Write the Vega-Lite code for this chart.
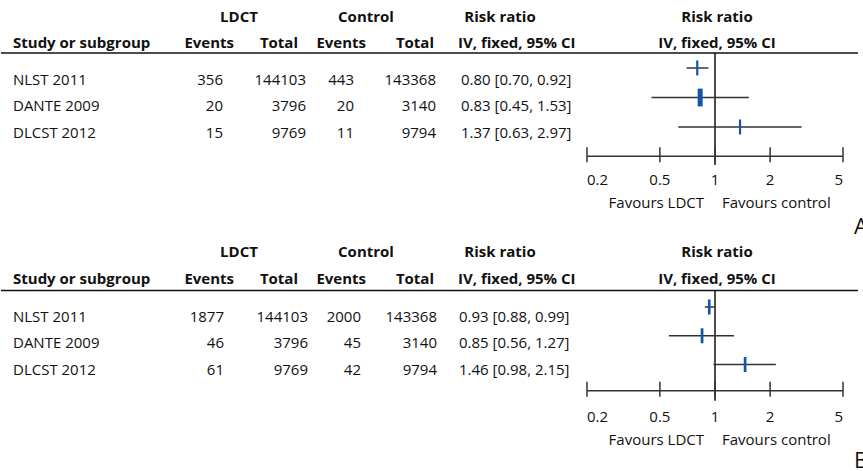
{
  "$schema": "https://vega.github.io/schema/vega-lite/v6.json",
  "padding": 0,
  "spacing": 0,
  "bounds": "flush",
  "background": "white",
  "config": {
    "view": {"stroke": null},
    "text": {"font": "Open Sans", "fontSize": 15, "baseline": "middle", "color": "#111111"},
    "tick": {"opacity": 1}
  },
  "datasets": {
    "studiesA": [
      {"study": "NLST 2011", "ev1": 356, "tot1": 144103, "ev2": 443, "tot2": 143368, "rr": 0.80, "lo": 0.70, "hi": 0.92, "ci": "0.80 [0.70, 0.92]"},
      {"study": "DANTE 2009", "ev1": 20, "tot1": 3796, "ev2": 20, "tot2": 3140, "rr": 0.83, "lo": 0.45, "hi": 1.53, "ci": "0.83 [0.45, 1.53]"},
      {"study": "DLCST 2012", "ev1": 15, "tot1": 9769, "ev2": 11, "tot2": 9794, "rr": 1.37, "lo": 0.63, "hi": 2.97, "ci": "1.37 [0.63, 2.97]"}
    ],
    "studiesB": [
      {"study": "NLST 2011", "ev1": 1877, "tot1": 144103, "ev2": 2000, "tot2": 143368, "rr": 0.93, "lo": 0.88, "hi": 0.99, "ci": "0.93 [0.88, 0.99]"},
      {"study": "DANTE 2009", "ev1": 46, "tot1": 3796, "ev2": 45, "tot2": 3140, "rr": 0.85, "lo": 0.56, "hi": 1.27, "ci": "0.85 [0.56, 1.27]"},
      {"study": "DLCST 2012", "ev1": 61, "tot1": 9769, "ev2": 42, "tot2": 9794, "rr": 1.46, "lo": 0.98, "hi": 2.15, "ci": "1.46 [0.98, 2.15]"}
    ],
    "ticks": [
      {"v": 0.2, "lab": "0.2"},
      {"v": 0.5, "lab": "0.5"},
      {"v": 1, "lab": "1"},
      {"v": 2, "lab": "2"},
      {"v": 5, "lab": "5"}
    ]
  },
  "vconcat": [
    {
      "width": 863,
      "height": 235,
      "data": {"name": "studiesA"},
      "transform": [{"window": [{"op": "row_number", "as": "row"}]}],
      "resolve": {"scale": {"x": "independent", "y": "independent"}},
      "layer": [
        {
          "layer": [
            {"mark": {"type": "text", "align": "left"},
             "encoding": {
               "x": {"datum": 12, "type": "quantitative", "scale": {"domain": [0, 863], "nice": false, "zero": false}, "axis": null},
               "y": {"field": "row", "type": "quantitative", "scale": {"domain": [-2, 6.85], "reverse": true, "nice": false, "zero": false}, "axis": null},
               "text": {"field": "study"}}},
            {"mark": {"type": "text", "align": "right"},
             "encoding": {"x": {"datum": 222}, "y": {"field": "row", "type": "quantitative"}, "text": {"field": "ev1", "type": "quantitative", "format": "d"}}},
            {"mark": {"type": "text", "align": "right"},
             "encoding": {"x": {"datum": 305}, "y": {"field": "row", "type": "quantitative"}, "text": {"field": "tot1", "type": "quantitative", "format": "d"}}},
            {"mark": {"type": "text", "align": "right"},
             "encoding": {"x": {"datum": 353}, "y": {"field": "row", "type": "quantitative"}, "text": {"field": "ev2", "type": "quantitative", "format": "d"}}},
            {"mark": {"type": "text", "align": "right"},
             "encoding": {"x": {"datum": 435}, "y": {"field": "row", "type": "quantitative"}, "text": {"field": "tot2", "type": "quantitative", "format": "d"}}},
            {"mark": {"type": "text", "align": "left"},
             "encoding": {"x": {"datum": 460}, "y": {"field": "row", "type": "quantitative"}, "text": {"field": "ci"}}},
            {"data": {"values": [{}]},
             "mark": {"type": "rule", "color": "#111111", "strokeWidth": 1.5},
             "encoding": {"x": {"datum": 0}, "x2": {"datum": 857}, "y": {"datum": 0}}},
            {"data": {"values": [{"label": "LDCT"}]},
             "mark": {"type": "text", "align": "center", "fontWeight": "bold"},
             "encoding": {"x": {"datum": 238}, "y": {"datum": -1.36}, "text": {"field": "label"}}},
            {"data": {"values": [{"label": "Control"}]},
             "mark": {"type": "text", "align": "center", "fontWeight": "bold"},
             "encoding": {"x": {"datum": 365}, "y": {"datum": -1.36}, "text": {"field": "label"}}},
            {"data": {"values": [{"label": "Risk ratio"}]},
             "mark": {"type": "text", "align": "center", "fontWeight": "bold"},
             "encoding": {"x": {"datum": 499}, "y": {"datum": -1.36}, "text": {"field": "label"}}},
            {"data": {"values": [{"label": "Study or subgroup"}]},
             "mark": {"type": "text", "align": "left", "fontWeight": "bold"},
             "encoding": {"x": {"datum": 12}, "y": {"datum": -0.38}, "text": {"field": "label"}}},
            {"data": {"values": [{"label": "Events"}]},
             "mark": {"type": "text", "align": "right", "fontWeight": "bold"},
             "encoding": {"x": {"datum": 233}, "y": {"datum": -0.38}, "text": {"field": "label"}}},
            {"data": {"values": [{"label": "Total"}]},
             "mark": {"type": "text", "align": "right", "fontWeight": "bold"},
             "encoding": {"x": {"datum": 297}, "y": {"datum": -0.38}, "text": {"field": "label"}}},
            {"data": {"values": [{"label": "Events"}]},
             "mark": {"type": "text", "align": "right", "fontWeight": "bold"},
             "encoding": {"x": {"datum": 365}, "y": {"datum": -0.38}, "text": {"field": "label"}}},
            {"data": {"values": [{"label": "Total"}]},
             "mark": {"type": "text", "align": "right", "fontWeight": "bold"},
             "encoding": {"x": {"datum": 433}, "y": {"datum": -0.38}, "text": {"field": "label"}}},
            {"data": {"values": [{"label": "IV, fixed, 95% CI"}]},
             "mark": {"type": "text", "align": "left", "fontWeight": "bold"},
             "encoding": {"x": {"datum": 457}, "y": {"datum": -0.38}, "text": {"field": "label"}}},
            {"data": {"values": [{"label": "A"}]},
             "mark": {"type": "text", "align": "left", "fontSize": 22},
             "encoding": {"x": {"datum": 853}, "y": {"datum": 6.55}, "text": {"field": "label"}}}
          ]
        },
        {
          "data": {"name": "ticks"},
          "layer": [
            {"transform": [{"filter": "datum.v === 1"}],
             "mark": {"type": "rule", "color": "#111111", "strokeWidth": 1.5},
             "encoding": {
               "x": {"field": "v", "type": "quantitative", "scale": {"type": "log", "domain": [0.2, 5], "range": [586, 842], "nice": false}, "axis": null},
               "y": {"datum": 0, "type": "quantitative", "scale": {"domain": [-2, 6.85], "reverse": true, "nice": false, "zero": false}, "axis": null},
               "y2": {"datum": 4.21}}},
            {"mark": {"type": "rule", "color": "#333333", "strokeWidth": 1.5},
             "encoding": {"x": {"field": "v", "aggregate": "min", "type": "quantitative"}, "x2": {"field": "v", "aggregate": "max"}, "y": {"datum": 3.88}}},
            {"mark": {"type": "tick", "orient": "vertical", "color": "#333333", "size": 15, "thickness": 1.5, "yOffset": -1.5},
             "encoding": {"x": {"field": "v", "type": "quantitative"}, "y": {"datum": 3.88}}},
            {"transform": [{"filter": "datum.v === 0.2"}],
             "mark": {"type": "text", "align": "left"},
             "encoding": {"x": {"field": "v", "type": "quantitative"}, "y": {"datum": 4.78}, "text": {"field": "lab"}}},
            {"transform": [{"filter": "datum.v > 0.2 && datum.v < 5"}],
             "mark": {"type": "text", "align": "center"},
             "encoding": {"x": {"field": "v", "type": "quantitative"}, "y": {"datum": 4.78}, "text": {"field": "lab"}}},
            {"transform": [{"filter": "datum.v === 5"}],
             "mark": {"type": "text", "align": "right"},
             "encoding": {"x": {"field": "v", "type": "quantitative"}, "y": {"datum": 4.78}, "text": {"field": "lab"}}},
            {"data": {"values": [{"label": "Favours LDCT"}]},
             "mark": {"type": "text", "align": "right", "dx": -11},
             "encoding": {"x": {"datum": 1}, "y": {"datum": 5.65}, "text": {"field": "label"}}},
            {"data": {"values": [{"label": "Favours control"}]},
             "mark": {"type": "text", "align": "left", "dx": 7},
             "encoding": {"x": {"datum": 1}, "y": {"datum": 5.65}, "text": {"field": "label"}}},
            {"data": {"values": [{"label": "Risk ratio"}]},
             "mark": {"type": "text", "align": "center", "fontWeight": "bold", "dx": 2},
             "encoding": {"x": {"datum": 1}, "y": {"datum": -1.36}, "text": {"field": "label"}}},
            {"data": {"values": [{"label": "IV, fixed, 95% CI"}]},
             "mark": {"type": "text", "align": "center", "fontWeight": "bold", "dx": 2},
             "encoding": {"x": {"datum": 1}, "y": {"datum": -0.38}, "text": {"field": "label"}}}
          ]
        },
        {
          "layer": [
            {"mark": {"type": "rule", "color": "#333333", "strokeWidth": 1.5},
             "encoding": {
               "x": {"field": "lo", "type": "quantitative", "scale": {"type": "log", "domain": [0.2, 5], "range": [586, 842], "nice": false}, "axis": null},
               "x2": {"field": "hi"},
               "y": {"field": "row", "type": "quantitative", "scale": {"domain": [-1.305, 6.661], "reverse": true, "nice": false, "zero": false}, "axis": null}}},
            {"mark": {"type": "tick", "orient": "vertical", "color": "#1256a6", "stroke": "#1256a6", "opacity": 1, "size": 15, "thickness": 2.2},
             "encoding": {
               "x": {"field": "rr", "type": "quantitative"},
               "y": {"field": "row", "type": "quantitative"},
               "strokeWidth": {"condition": {"test": "datum.study === 'DANTE 2009'", "value": 2.8}, "value": 0}}}
          ]
        }
      ]
    },
    {
      "width": 863,
      "height": 236,
      "data": {"name": "studiesB"},
      "transform": [{"window": [{"op": "row_number", "as": "row"}]}],
      "resolve": {"scale": {"x": "independent", "y": "independent"}},
      "layer": [
        {
          "layer": [
            {"mark": {"type": "text", "align": "left"},
             "encoding": {
               "x": {"datum": 12, "type": "quantitative", "scale": {"domain": [0, 863], "nice": false, "zero": false}, "axis": null},
               "y": {"field": "row", "type": "quantitative", "scale": {"domain": [-2.094, 6.811], "reverse": true, "nice": false, "zero": false}, "axis": null},
               "text": {"field": "study"}}},
            {"mark": {"type": "text", "align": "right"},
             "encoding": {"x": {"datum": 223}, "y": {"field": "row", "type": "quantitative"}, "text": {"field": "ev1", "type": "quantitative", "format": "d"}}},
            {"mark": {"type": "text", "align": "right"},
             "encoding": {"x": {"datum": 307}, "y": {"field": "row", "type": "quantitative"}, "text": {"field": "tot1", "type": "quantitative", "format": "d"}}},
            {"mark": {"type": "text", "align": "right"},
             "encoding": {"x": {"datum": 360}, "y": {"field": "row", "type": "quantitative"}, "text": {"field": "ev2", "type": "quantitative", "format": "d"}}},
            {"mark": {"type": "text", "align": "right"},
             "encoding": {"x": {"datum": 436}, "y": {"field": "row", "type": "quantitative"}, "text": {"field": "tot2", "type": "quantitative", "format": "d"}}},
            {"mark": {"type": "text", "align": "left"},
             "encoding": {"x": {"datum": 458}, "y": {"field": "row", "type": "quantitative"}, "text": {"field": "ci"}}},
            {"data": {"values": [{}]},
             "mark": {"type": "rule", "color": "#111111", "strokeWidth": 1.5},
             "encoding": {"x": {"datum": 0}, "x2": {"datum": 857}, "y": {"datum": 0}}},
            {"data": {"values": [{"label": "LDCT"}]},
             "mark": {"type": "text", "align": "center", "fontWeight": "bold"},
             "encoding": {"x": {"datum": 238}, "y": {"datum": -1.44}, "text": {"field": "label"}}},
            {"data": {"values": [{"label": "Control"}]},
             "mark": {"type": "text", "align": "center", "fontWeight": "bold"},
             "encoding": {"x": {"datum": 365}, "y": {"datum": -1.44}, "text": {"field": "label"}}},
            {"data": {"values": [{"label": "Risk ratio"}]},
             "mark": {"type": "text", "align": "center", "fontWeight": "bold"},
             "encoding": {"x": {"datum": 499}, "y": {"datum": -1.44}, "text": {"field": "label"}}},
            {"data": {"values": [{"label": "Study or subgroup"}]},
             "mark": {"type": "text", "align": "left", "fontWeight": "bold"},
             "encoding": {"x": {"datum": 12}, "y": {"datum": -0.43}, "text": {"field": "label"}}},
            {"data": {"values": [{"label": "Events"}]},
             "mark": {"type": "text", "align": "right", "fontWeight": "bold"},
             "encoding": {"x": {"datum": 233}, "y": {"datum": -0.43}, "text": {"field": "label"}}},
            {"data": {"values": [{"label": "Total"}]},
             "mark": {"type": "text", "align": "right", "fontWeight": "bold"},
             "encoding": {"x": {"datum": 297}, "y": {"datum": -0.43}, "text": {"field": "label"}}},
            {"data": {"values": [{"label": "Events"}]},
             "mark": {"type": "text", "align": "right", "fontWeight": "bold"},
             "encoding": {"x": {"datum": 365}, "y": {"datum": -0.43}, "text": {"field": "label"}}},
            {"data": {"values": [{"label": "Total"}]},
             "mark": {"type": "text", "align": "right", "fontWeight": "bold"},
             "encoding": {"x": {"datum": 433}, "y": {"datum": -0.43}, "text": {"field": "label"}}},
            {"data": {"values": [{"label": "IV, fixed, 95% CI"}]},
             "mark": {"type": "text", "align": "left", "fontWeight": "bold"},
             "encoding": {"x": {"datum": 457}, "y": {"datum": -0.43}, "text": {"field": "label"}}},
            {"data": {"values": [{"label": "B"}]},
             "mark": {"type": "text", "align": "left", "fontSize": 22},
             "encoding": {"x": {"datum": 853}, "y": {"datum": 6.43}, "text": {"field": "label"}}}
          ]
        },
        {
          "data": {"name": "ticks"},
          "layer": [
            {"transform": [{"filter": "datum.v === 1"}],
             "mark": {"type": "rule", "color": "#111111", "strokeWidth": 1.5},
             "encoding": {
               "x": {"field": "v", "type": "quantitative", "scale": {"type": "log", "domain": [0.2, 5], "range": [586, 842], "nice": false}, "axis": null},
               "y": {"datum": 0, "type": "quantitative", "scale": {"domain": [-2.094, 6.811], "reverse": true, "nice": false, "zero": false}, "axis": null},
               "y2": {"datum": 4.16}}},
            {"mark": {"type": "rule", "color": "#333333", "strokeWidth": 1.5},
             "encoding": {"x": {"field": "v", "aggregate": "min", "type": "quantitative"}, "x2": {"field": "v", "aggregate": "max"}, "y": {"datum": 3.78}}},
            {"mark": {"type": "tick", "orient": "vertical", "color": "#333333", "size": 15, "thickness": 1.5, "yOffset": -1.5},
             "encoding": {"x": {"field": "v", "type": "quantitative"}, "y": {"datum": 3.78}}},
            {"transform": [{"filter": "datum.v === 0.2"}],
             "mark": {"type": "text", "align": "left"},
             "encoding": {"x": {"field": "v", "type": "quantitative"}, "y": {"datum": 4.77}, "text": {"field": "lab"}}},
            {"transform": [{"filter": "datum.v > 0.2 && datum.v < 5"}],
             "mark": {"type": "text", "align": "center"},
             "encoding": {"x": {"field": "v", "type": "quantitative"}, "y": {"datum": 4.77}, "text": {"field": "lab"}}},
            {"transform": [{"filter": "datum.v === 5"}],
             "mark": {"type": "text", "align": "right"},
             "encoding": {"x": {"field": "v", "type": "quantitative"}, "y": {"datum": 4.77}, "text": {"field": "lab"}}},
            {"data": {"values": [{"label": "Favours LDCT"}]},
             "mark": {"type": "text", "align": "right", "dx": -11},
             "encoding": {"x": {"datum": 1}, "y": {"datum": 5.64}, "text": {"field": "label"}}},
            {"data": {"values": [{"label": "Favours control"}]},
             "mark": {"type": "text", "align": "left", "dx": 7},
             "encoding": {"x": {"datum": 1}, "y": {"datum": 5.64}, "text": {"field": "label"}}},
            {"data": {"values": [{"label": "Risk ratio"}]},
             "mark": {"type": "text", "align": "center", "fontWeight": "bold", "dx": 2},
             "encoding": {"x": {"datum": 1}, "y": {"datum": -1.44}, "text": {"field": "label"}}},
            {"data": {"values": [{"label": "IV, fixed, 95% CI"}]},
             "mark": {"type": "text", "align": "center", "fontWeight": "bold", "dx": 2},
             "encoding": {"x": {"datum": 1}, "y": {"datum": -0.43}, "text": {"field": "label"}}}
          ]
        },
        {
          "layer": [
            {"mark": {"type": "rule", "color": "#333333", "strokeWidth": 1.5},
             "encoding": {
               "x": {"field": "lo", "type": "quantitative", "scale": {"type": "log", "domain": [0.2, 5], "range": [586, 842], "nice": false}, "axis": null},
               "x2": {"field": "hi"},
               "y": {"field": "row", "type": "quantitative", "scale": {"domain": [-1.504, 6.704], "reverse": true, "nice": false, "zero": false}, "axis": null}}},
            {"mark": {"type": "tick", "orient": "vertical", "color": "#1256a6", "opacity": 1, "size": 15, "thickness": 2.7},
             "encoding": {
               "x": {"field": "rr", "type": "quantitative"},
               "y": {"field": "row", "type": "quantitative"}}}
          ]
        }
      ]
    }
  ]
}
